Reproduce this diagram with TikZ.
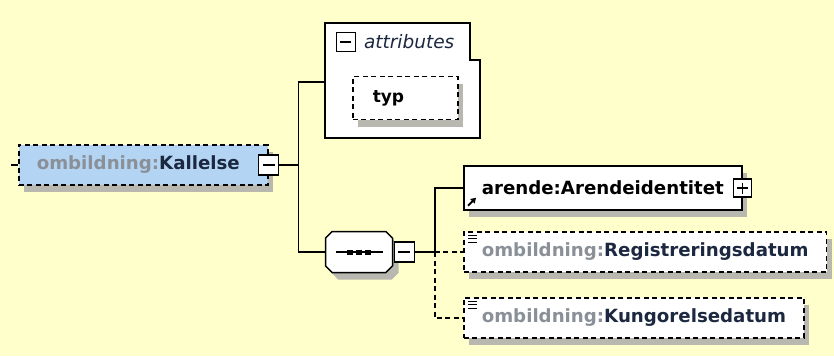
\documentclass[tikz,border=0pt]{standalone}
\usepackage{fontspec}
\setmainfont{DejaVu Sans}
\usetikzlibrary{positioning, calc, arrows.meta, shapes.misc, shadows}
\definecolor{diagbg}{HTML}{FFFFCC}
\definecolor{elemblue}{HTML}{B4D4F4}
\definecolor{prefixgray}{HTML}{8A9098}
\definecolor{namenavy}{HTML}{1C2840}
\definecolor{shadowgray}{HTML}{B8B8B0}

\tikzset{
  conn/.style={line width=1.5pt},
  optconn/.style={conn, dash pattern=on 5pt off 3.5pt},
  elem/.style={draw, line width=1.5pt, fill=white, minimum height=42pt,
    inner xsep=18pt, text=namenavy, font=\bfseries\fontsize{18.2}{20}\selectfont,
    drop shadow={shadow xshift=5pt, shadow yshift=-7pt, fill=shadowgray, opacity=1}},
  optelem/.style={elem, dash pattern=on 5pt off 3.5pt},
  minusbox/.style={draw, fill=white, line width=1.4pt, minimum size=20pt, inner sep=0pt,
    path picture={\draw[black, line width=1.5pt] ([xshift=4pt]path picture bounding box.west)
      -- ([xshift=-4pt]path picture bounding box.east);}},
  plusbox/.style={draw, fill=white, line width=1.4pt, minimum size=18pt, inner sep=0pt,
    path picture={\draw[black, line width=1.5pt] ([xshift=3.5pt]path picture bounding box.west)
      -- ([xshift=-3.5pt]path picture bounding box.east);
      \draw[black, line width=1.5pt] ([yshift=-3.5pt]path picture bounding box.north)
      -- ([yshift=3.5pt]path picture bounding box.south);}},
  seqbox/.style={chamfered rectangle, chamfered rectangle xsep=11pt, draw, line width=1.5pt,
    fill=white, minimum width=67pt, minimum height=41pt,
    drop shadow={shadow xshift=6pt, shadow yshift=-7pt, fill=shadowgray, opacity=1},
    path picture={\draw[black, line width=1.6pt] ([xshift=10pt]path picture bounding box.west)
      -- ([xshift=-10pt]path picture bounding box.east);
      \foreach \dx in {-9,0,9}
        \fill[black] ($(path picture bounding box.center)+(\dx-3,-2.5)$) rectangle ++(6,5);}},
  listicon/.style={line width=1pt}
}

\begin{document}
\begin{tikzpicture}[x=1pt, y=-1pt]
  \fill[diagbg] (0,0) rectangle (834,356);

  % root element
  \coordinate (lead) at (11,165);
  \node[optelem, fill=elemblue, minimum height=40pt, anchor=west] (kallelse) at (18,165)
    {\textcolor{prefixgray}{ombildning:}Kallelse\hspace*{10pt}};
  \node[minusbox] (kmin) at (kallelse.east) {};

  % attributes group
  \node[minimum width=155pt, minimum height=115pt, inner sep=0pt] (attrs) at (402.5,80.5) {};
  \draw[conn, fill=white] (attrs.north west) -- ($(attrs.north east)+(-10,0)$)
    -- ($(attrs.north east)+(-10,37)$) -- ($(attrs.north east)+(0,37)$)
    -- (attrs.south east) -- (attrs.south west) -- cycle;
  \node[minusbox, minimum size=19pt] (amin) at ($(attrs.north west)+(21,19)$) {};
  \node[anchor=west, inner sep=0pt, text=namenavy, font=\itshape\fontsize{18.5}{20}\selectfont]
    (attrlabel) at ($(attrs.north west)+(39,19)$) {attributes};
  \node[optelem, anchor=west, minimum height=43pt, text width=65pt, align=left,
    inner xsep=20pt, text=black, font=\bfseries\fontsize{17}{19}\selectfont]
    (typ) at (352,98) {typ};

  % sequence
  \node[seqbox] (seq) at (359,252) {};
  \node[minusbox] (smin) at ([xshift=11pt]seq.east) {};

  % children
  \node[elem, text=black, minimum height=44pt, anchor=west] (arende) at (463,188)
    {arende:Arendeidentitet};
  \node[plusbox] (aplus) at (arende.east) {};
  \draw[-{Triangle[length=5pt,width=6pt]}, line width=2pt]
    ($(arende.south west)+(5,-5)$) -- ++(8,-8);

  \node[optelem, minimum height=40pt, anchor=west] (regdat) at (463,252)
    {\textcolor{prefixgray}{ombildning:}Registreringsdatum};
  \node[optelem, minimum height=40pt, anchor=west] (kungdat) at (463,318)
    {\textcolor{prefixgray}{ombildning:}Kungorelsedatum};
  \foreach \n in {regdat, kungdat} {
    \foreach \dy in {4,7.5,11}
      \draw[listicon] ($(\n.north west)+(5,\dy)$) -- ++(9,0);
  }

  % connectors
  \draw[conn] (lead) -- (kallelse.west);
  \draw[conn] (kmin.east) -- ++(19,0) coordinate (kfork);
  \draw[conn] (kfork) |- ([yshift=-1.5pt]attrs.west);
  \draw[conn] (kfork) |- (seq.west);
  \draw[conn] (smin.east) -- ++(20,0) coordinate (sfork);
  \draw[conn] (sfork) |- (arende.west);
  \draw[optconn] (sfork) -- (regdat.west);
  \draw[optconn] (sfork) |- (kungdat.west);
\end{tikzpicture}
\end{document}
